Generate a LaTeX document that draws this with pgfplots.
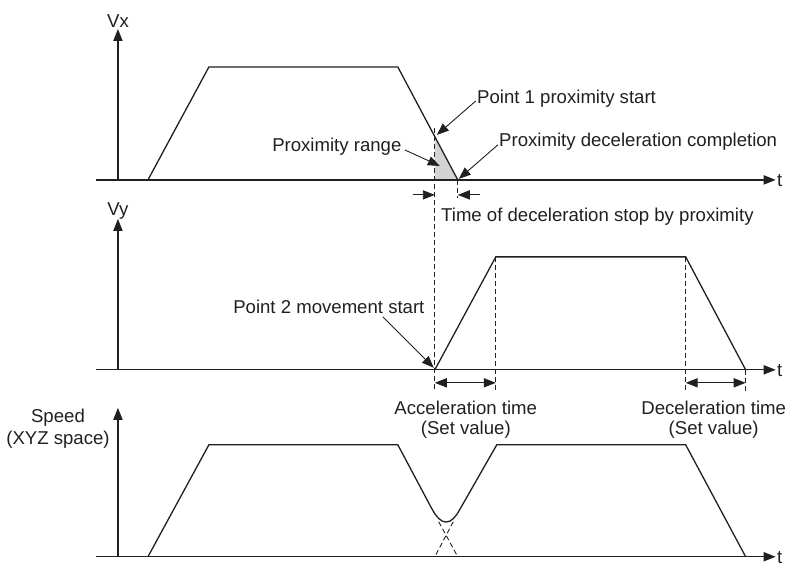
\documentclass[border=0pt]{standalone}
\usepackage{fontspec}
\setmainfont{Liberation Sans}
\usepackage{pgfplots}
\pgfplotsset{compat=1.18}
\usetikzlibrary{arrows.meta}

\definecolor{ink}{HTML}{231F20}
\definecolor{shade}{HTML}{D1D3D4}

% picture in pixel units of the reference (x right, y down)
\pgfplotsset{
  line/.style={ink, line width=0.65pt},
  thin line/.style={ink, line width=0.45pt},
  dashline/.style={ink, line width=0.45pt, dash pattern=on 2.5pt off 1.5pt},
  tip/.style={-{Triangle[length=6pt,width=4.6pt]}},
  twotip/.style={{Triangle[length=6pt,width=4.6pt]}-{Triangle[length=6pt,width=4.6pt]}},
}

\begin{document}
\begin{tikzpicture}[font=\fontsize{9.3}{11}\selectfont, every node/.style={inner sep=0pt, text=ink}]
\begin{axis}[
  scale only axis,
  width=393pt, height=282.5pt,
  xmin=0, xmax=786, ymin=0, ymax=565,
  y dir=reverse,
  axis lines=none,
  clip=false,
]
\path (rel axis cs:0,0) rectangle (rel axis cs:1,1);

% ---- Vx panel
\addplot[fill=shade, draw=none] coordinates {(435,136.7) (435,180) (458,180)} -- cycle;
\addplot[line, tip] coordinates {(96,180) (776,180)};
\addplot[line, tip] coordinates {(118,180) (118,29)};
\addplot[line] coordinates {(148,180) (209,67) (398,67) (458,180)};
\addplot[dashline] coordinates {(435,128) (435,392)};
\addplot[dashline] coordinates {(458,180) (458,198)};
\addplot[thin line, tip] coordinates {(413,195) (435,195)};
\addplot[thin line, tip] coordinates {(480,195) (458,195)};
\addplot[thin line, tip] coordinates {(476,101) (437,135)};
\addplot[thin line, tip] coordinates {(498,145) (459,179)};
\addplot[thin line, tip] coordinates {(405,150) (440,166)};

\node at (axis cs:118,21) {Vx};
\node[anchor=west] at (axis cs:777,181) {t};
\node[anchor=west] at (axis cs:477,99) {Point 1 proximity start};
\node[anchor=west] at (axis cs:499,142) {Proximity deceleration completion};
\node[anchor=east] at (axis cs:402,147) {Proximity range};
\node[anchor=west] at (axis cs:441,217) {Time of deceleration stop by proximity};

% ---- Vy panel
\addplot[line, tip] coordinates {(96,370) (776,370)};
\addplot[line, tip] coordinates {(118,370) (118,219)};
\addplot[line] coordinates {(435,370) (496,257) (686,257) (746,370)};
\addplot[dashline] coordinates {(496,257) (496,392)};
\addplot[dashline] coordinates {(686,257) (686,392)};
\addplot[dashline] coordinates {(746,370) (746,392)};
\addplot[thin line, twotip] coordinates {(435,383) (496,383)};
\addplot[thin line, twotip] coordinates {(686,383) (746,383)};
\addplot[thin line, tip] coordinates {(383,317) (434,368)};

\node at (axis cs:118,211) {Vy};
\node[anchor=west] at (axis cs:777,371) {t};
\node at (axis cs:329,307) {Point 2 movement start};
\node at (axis cs:466,408) {Acceleration time};
\node at (axis cs:466,430) {(Set value)};
\node at (axis cs:714,408) {Deceleration time};
\node at (axis cs:714,430) {(Set value)};

% ---- Speed panel
\addplot[line, tip] coordinates {(96,557) (776,557)};
\addplot[line, tip] coordinates {(118,557) (118,408)};
\addplot[line] coordinates {(148,557) (209,445) (398,445) (431.5,508)
  (435.2,514.3) (438.9,518.7) (442.5,521.4) (446.3,522.3) (450.0,521.4)
  (453.7,518.7) (457.3,514.3) (461,508) (497,445) (686,445) (746,557)};
\addplot[dashline] coordinates {(438.9,522) (458,557)};
\addplot[dashline] coordinates {(453.5,522) (435,557)};

\node at (axis cs:58,418) {Speed};
\node at (axis cs:58,440) {(XYZ space)};
\node[anchor=west] at (axis cs:777,558) {t};
\end{axis}
\end{tikzpicture}
\end{document}
